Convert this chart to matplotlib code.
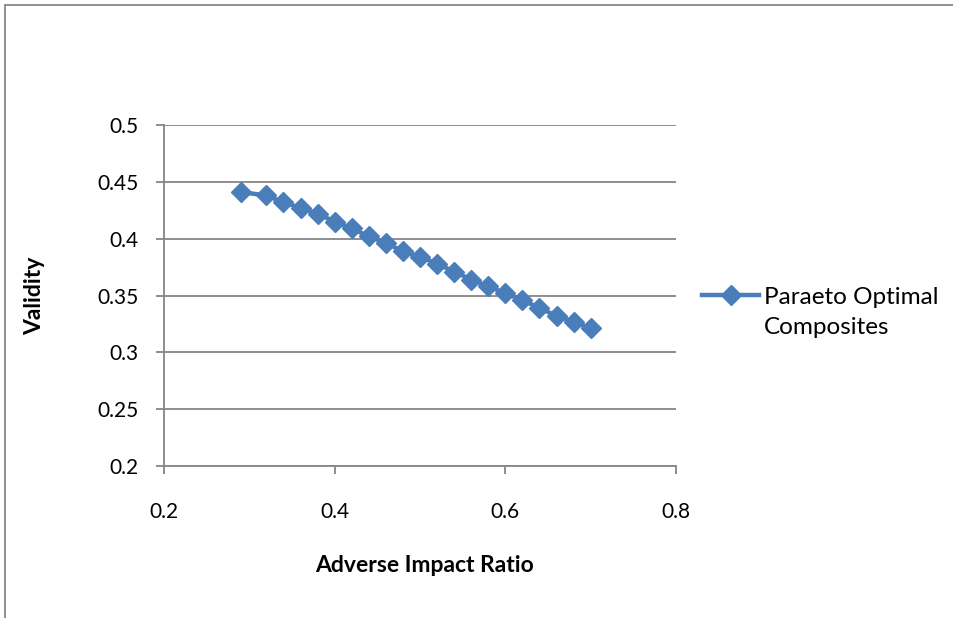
import matplotlib
matplotlib.use("Agg")
import matplotlib.pyplot as plt
from matplotlib.patches import Rectangle

adverse_impact_ratio = [0.29, 0.32, 0.34, 0.36, 0.38, 0.40, 0.42, 0.44, 0.46, 0.48,
                        0.50, 0.52, 0.54, 0.56, 0.58, 0.60, 0.62, 0.64, 0.66, 0.68, 0.70]
validity = [0.441, 0.438, 0.432, 0.427, 0.422, 0.415, 0.409, 0.402, 0.396, 0.389,
            0.384, 0.378, 0.371, 0.364, 0.358, 0.352, 0.346, 0.339, 0.332, 0.327, 0.321]
series_label_lines = ["Paraeto Optimal", "Composites"]
x_ticks = [0.2, 0.4, 0.6, 0.8]
y_ticks = [0.2, 0.25, 0.3, 0.35, 0.4, 0.45, 0.5]
x_title = "Adverse Impact Ratio"
y_title = "Validity"

plt.rcParams['font.family'] = ['Lato', 'DejaVu Sans']

fig = plt.figure(figsize=(9.54, 6.18), dpi=100)
ax = fig.add_axes([164/954, 1-466/618, (676-164)/954, (466-125)/618])

color = "#4A7EBB"
grid_c = "#868686"

ax.plot(adverse_impact_ratio, validity, color=color, lw=3.2, marker='D',
        markersize=10.5, markerfacecolor=color, markeredgecolor=color,
        label=series_label_lines[0], solid_joinstyle='round', zorder=3)

ax.set_xlim(0.2, 0.8)
ax.set_ylim(0.2, 0.5)
ax.set_xticks(x_ticks)
ax.set_yticks(y_ticks)
ax.set_xticklabels([f"{v:g}" for v in x_ticks])
ax.set_yticklabels([f"{v:g}" for v in y_ticks])
ax.yaxis.grid(True, color=grid_c, lw=1.3)
ax.set_axisbelow(True)
for s in ['top', 'right']:
    ax.spines[s].set_visible(False)
for s in ['left', 'bottom']:
    ax.spines[s].set_color(grid_c)
    ax.spines[s].set_linewidth(1.3)
ax.tick_params(axis='both', colors=grid_c, length=6, width=1.3, labelsize=15,
               labelcolor='black', direction='out')
ax.tick_params(axis='y', pad=12)
ax.tick_params(axis='x', pad=20)

fig.text(425/954, 1-566/618, x_title, fontsize=16.5, fontweight='bold', ha='center', va='center')
fig.text(35/954, 1-296/618, y_title, fontsize=16.5, fontweight='bold', ha='center', va='center',
         rotation=90)

leg = ax.legend(loc='center left', bbox_to_anchor=(702/954, 1-297/618),
                bbox_transform=fig.transFigure, frameon=False,
                fontsize=17.5, handlelength=2.35, handletextpad=0.2, borderaxespad=0.0,
                borderpad=0.0)
fig.canvas.draw()
t = leg.get_texts()[0]
bb = t.get_window_extent()
fig.text(bb.x0 / fig.bbox.width, 1-328/618, series_label_lines[1], fontsize=17.5,
         ha='left', va='center')

fig.patches.append(Rectangle((5/954, -0.1), 1.1, 1.1 - 5/618, transform=fig.transFigure,
                             fill=False, edgecolor=grid_c, lw=1.3))

fig.savefig("out.png", dpi=100)
